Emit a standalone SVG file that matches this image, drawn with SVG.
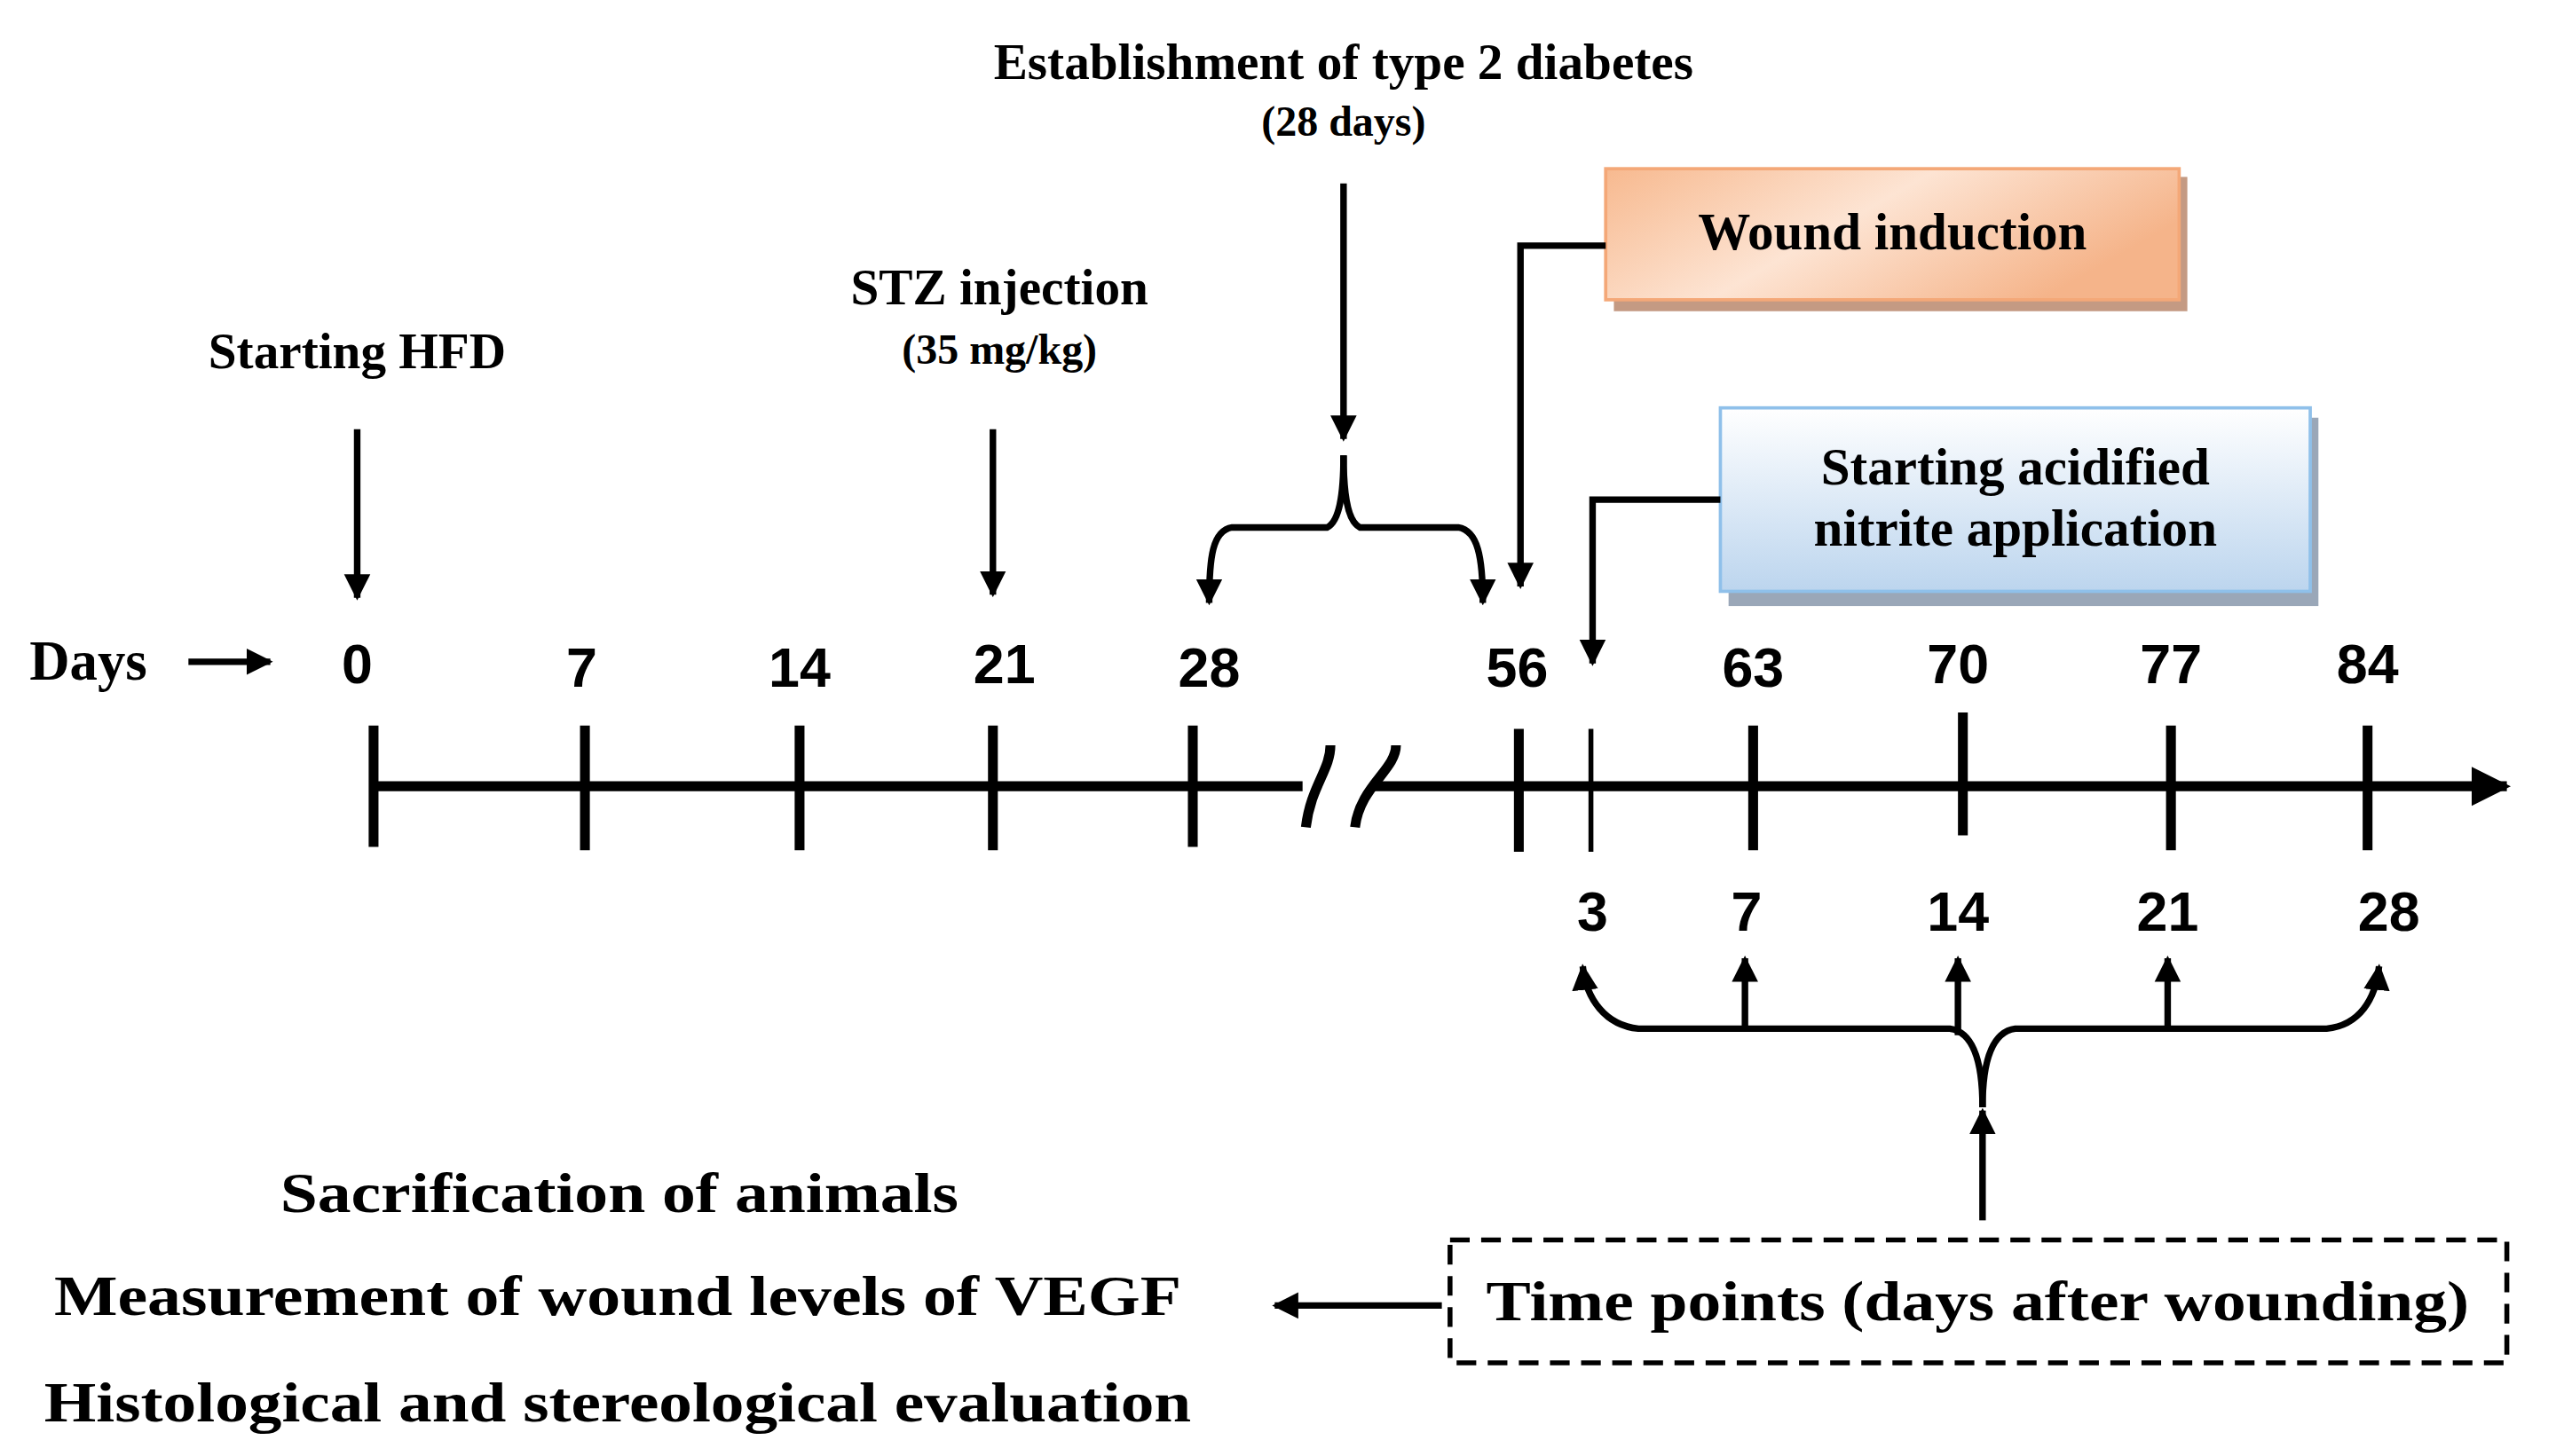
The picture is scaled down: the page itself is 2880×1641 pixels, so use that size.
<svg xmlns="http://www.w3.org/2000/svg" width="2880" height="1641" viewBox="0 0 2880 1641">
<style>
.t{font-family:"Liberation Serif","Times New Roman",serif;font-weight:bold;fill:#000}
.n{font-family:"Liberation Sans",Arial,sans-serif;font-weight:bold;fill:#000;font-size:34px;text-anchor:middle}
.l{stroke:#000;fill:none;stroke-width:4}
.ax{stroke:#000;fill:none;stroke-width:6}
</style>
<defs>
<marker id="ah" viewBox="0 0 10 10" refX="9" refY="5" markerWidth="4" markerHeight="4.5" orient="auto" markerUnits="strokeWidth"><path d="M0,0 L10,5 L0,10 z" fill="#000"/></marker>
<linearGradient id="og" x1="0" y1="0" x2="1" y2="0.4"><stop offset="0" stop-color="#f7b98f"/><stop offset="0.5" stop-color="#fde4d3"/><stop offset="1" stop-color="#f5b48a"/></linearGradient>
<linearGradient id="bg" x1="0" y1="0" x2="0" y2="1"><stop offset="0" stop-color="#ffffff"/><stop offset="1" stop-color="#bcd5ee"/></linearGradient>
</defs>
<rect width="2880" height="1641" fill="#fff"/>
<g transform="scale(1.84615)">
<g id="title"><text class="t" x="820" y="48" font-size="31" text-anchor="middle">Establishment of type 2 diabetes</text><text class="t" x="820" y="83" font-size="26" text-anchor="middle">(28 days)</text></g>
<g id="hfd"><text class="t" x="218" y="225" font-size="31" text-anchor="middle">Starting HFD</text></g>
<g id="stz"><text class="t" x="610" y="186" font-size="31" text-anchor="middle">STZ injection</text><text class="t" x="610" y="222" font-size="26" text-anchor="middle">(35 mg/kg)</text></g>
<g id="wound"><rect x="985" y="108" width="350" height="82" fill="#c49a83"/><rect x="980" y="103" width="350" height="80" fill="url(#og)" stroke="#f4a878" stroke-width="2"/><text class="t" x="1155" y="152" font-size="32" text-anchor="middle">Wound induction</text></g>
<g id="nitrite"><rect x="1055" y="255" width="360" height="115" fill="#9aa7b8"/><rect x="1050" y="249" width="360" height="112" fill="url(#bg)" stroke="#8fc0ea" stroke-width="2"/><text class="t" x="1230" y="296" font-size="32" text-anchor="middle">Starting acidified</text><text class="t" x="1230" y="333" font-size="32" text-anchor="middle">nitrite application</text></g>
<g id="days"><text class="t" x="18" y="415" font-size="34">Days</text></g>
<g id="topnums">
<text class="n" x="218" y="417">0</text><text class="n" x="355" y="419">7</text><text class="n" x="488" y="419">14</text><text class="n" x="613" y="417">21</text><text class="n" x="738" y="419">28</text><text class="n" x="926" y="419">56</text><text class="n" x="1070" y="419">63</text><text class="n" x="1195" y="417">70</text><text class="n" x="1325" y="417">77</text><text class="n" x="1445" y="417">84</text>
</g>
<g id="botnums">
<text class="n" x="972" y="568">3</text><text class="n" x="1066" y="568">7</text><text class="n" x="1195" y="568">14</text><text class="n" x="1323" y="568">21</text><text class="n" x="1458" y="568">28</text>
</g>
<g id="outcomes">
<text class="t" x="378" y="740" font-size="34" text-anchor="middle" textLength="414" lengthAdjust="spacingAndGlyphs">Sacrification of animals</text>
<text class="t" x="377" y="803" font-size="34" text-anchor="middle" textLength="688" lengthAdjust="spacingAndGlyphs">Measurement of wound levels of VEGF</text>
<text class="t" x="377" y="868" font-size="34" text-anchor="middle" textLength="700" lengthAdjust="spacingAndGlyphs">Histological and stereological evaluation</text>
</g>
<g id="timepoints"><rect x="885" y="757" width="645" height="75" fill="none" stroke="#000" stroke-width="3" stroke-dasharray="12,7"/><text class="t" x="1207" y="806" font-size="34" text-anchor="middle" textLength="600" lengthAdjust="spacingAndGlyphs">Time points (days after wounding)</text></g>
<g id="connectors">
<line class="l" x1="115" y1="404" x2="165" y2="404" stroke-width="5" marker-end="url(#ah)"/>
<line class="l" x1="218" y1="262" x2="218" y2="365" stroke-width="3" marker-end="url(#ah)"/>
<line class="l" x1="606" y1="262" x2="606" y2="363" stroke-width="3" marker-end="url(#ah)"/>
<line class="l" x1="820" y1="112" x2="820" y2="268" stroke-width="3" marker-end="url(#ah)"/>
<path class="l" d="M820,278 C820,300 822,318 830,322 L890,322 C902,324 905,340 905,368" marker-end="url(#ah)"/>
<path class="l" d="M820,278 C820,300 818,318 810,322 L752,322 C740,324 738,340 738,368" marker-end="url(#ah)"/>
<path class="l" d="M980,150 L928,150 L928,358" stroke-width="4" marker-end="url(#ah)"/>
<path class="l" d="M1050,305 L972,305 L972,405" stroke-width="4" marker-end="url(#ah)"/>
<line class="ax" x1="228" y1="480" x2="795" y2="480"/>
<line class="ax" x1="838" y1="480" x2="1530" y2="480" marker-end="url(#ah)"/>
<path class="ax" d="M812,455 C812,470 800,480 797,505"/>
<path class="ax" d="M852,455 C852,470 830,480 827,505"/>
<g class="ax">
<line x1="228" y1="443" x2="228" y2="517"/><line x1="357" y1="443" x2="357" y2="519"/><line x1="488" y1="443" x2="488" y2="519"/><line x1="606" y1="443" x2="606" y2="519"/><line x1="728" y1="443" x2="728" y2="517"/><line x1="927" y1="445" x2="927" y2="520"/><line x1="971" y1="445" x2="971" y2="520" stroke-width="3"/><line x1="1070" y1="443" x2="1070" y2="519"/><line x1="1198" y1="435" x2="1198" y2="510"/><line x1="1325" y1="443" x2="1325" y2="519"/><line x1="1445" y1="443" x2="1445" y2="519"/>
</g>
<path class="l" d="M1210,676 C1210,650 1205,630 1190,628 L1000,628 C980,626 968,610 966,590" marker-end="url(#ah)"/>
<path class="l" d="M1210,676 C1210,650 1215,630 1230,628 L1420,628 C1440,626 1450,610 1452,590" marker-end="url(#ah)"/>
<line class="l" x1="1065" y1="628" x2="1065" y2="585" stroke-width="3" marker-end="url(#ah)"/>
<line class="l" x1="1195" y1="632" x2="1195" y2="585" stroke-width="3" marker-end="url(#ah)"/>
<line class="l" x1="1323" y1="628" x2="1323" y2="585" stroke-width="3" marker-end="url(#ah)"/>
<line class="l" x1="1210" y1="745" x2="1210" y2="678" stroke-width="3" marker-end="url(#ah)"/>
<line class="l" x1="880" y1="797" x2="778" y2="797" stroke-width="4" marker-end="url(#ah)"/>
</g>
</g>
</svg>
